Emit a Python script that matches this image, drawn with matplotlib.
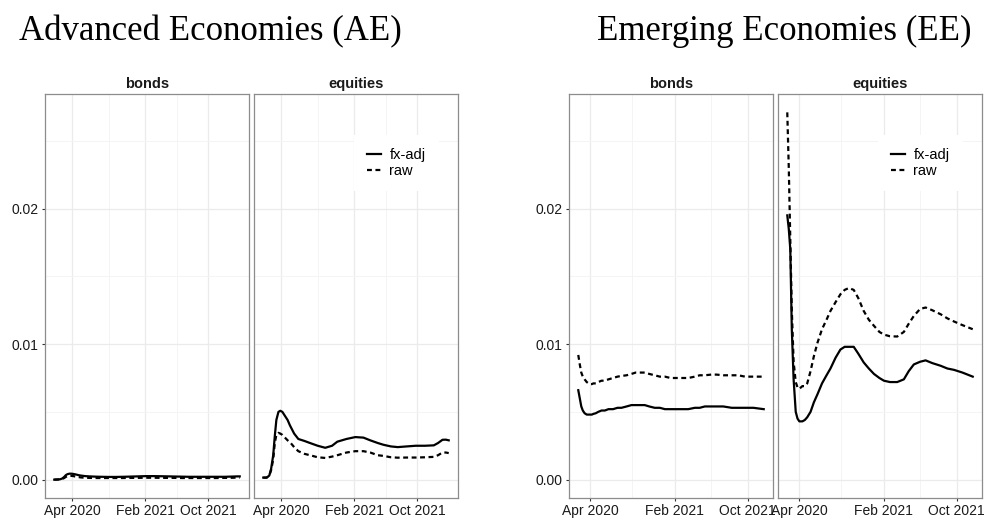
import numpy as np
import pandas as pd
import matplotlib
matplotlib.use("Agg")
import matplotlib.pyplot as plt
import matplotlib.dates as mdates
from matplotlib.ticker import FixedLocator
from matplotlib.lines import Line2D

plt.rcParams['font.family'] = ['Liberation Sans', 'DejaVu Sans']

# ---------------- data ----------------
ae_dates = [
    "2020-02-20", "2020-03-04", "2020-03-14", "2020-03-21", "2020-03-29", "2020-04-04",
    "2020-04-10", "2020-04-18", "2020-04-25", "2020-05-03", "2020-05-13", "2020-05-23",
    "2020-06-01", "2020-06-17", "2020-07-03", "2020-07-27", "2020-08-17", "2020-09-15",
    "2020-10-14", "2020-11-09", "2020-11-29", "2021-01-03", "2021-02-06", "2021-03-09",
    "2021-04-04", "2021-05-03", "2021-05-25", "2021-06-22", "2021-07-18", "2021-08-21",
    "2021-09-25", "2021-10-30", "2021-12-03", "2021-12-19", "2022-01-05", "2022-01-18",
    "2022-01-29",
]
ae_bonds_fxadj = [
    0.00000, 0.00001, 0.00003, 0.00008, 0.00020, 0.00033, 0.00040, 0.00044, 0.00044,
    0.00042, 0.00038, 0.00033, 0.00030, 0.00026, 0.00024, 0.00022, 0.00021, 0.00020,
    0.00020, 0.00021, 0.00022, 0.00024, 0.00026, 0.00026, 0.00025, 0.00024, 0.00023,
    0.00022, 0.00021, 0.00021, 0.00021, 0.00021, 0.00021, 0.00022, 0.00023, 0.00024,
    0.00024,
]
ae_bonds_raw = [
    0.00000, 0.00001, 0.00002, 0.00005, 0.00012, 0.00020, 0.00025, 0.00028, 0.00028,
    0.00026, 0.00022, 0.00019, 0.00016, 0.00014, 0.00013, 0.00012, 0.00012, 0.00012,
    0.00012, 0.00012, 0.00013, 0.00013, 0.00014, 0.00014, 0.00013, 0.00013, 0.00013,
    0.00012, 0.00012, 0.00012, 0.00012, 0.00012, 0.00013, 0.00013, 0.00014, 0.00015,
    0.00015,
]
ae_equities_fxadj = [
    0.00015, 0.00015, 0.00030, 0.00080, 0.00180, 0.00320, 0.00440, 0.00500, 0.00508,
    0.00500, 0.00470, 0.00440, 0.00400, 0.00340, 0.00300, 0.00285, 0.00270, 0.00250,
    0.00235, 0.00250, 0.00280, 0.00300, 0.00314, 0.00310, 0.00290, 0.00270, 0.00257,
    0.00245, 0.00240, 0.00245, 0.00250, 0.00250, 0.00253, 0.00270, 0.00294, 0.00295,
    0.00290,
]
ae_equities_raw = [
    0.00015, 0.00015, 0.00030, 0.00070, 0.00150, 0.00270, 0.00330, 0.00345, 0.00340,
    0.00330, 0.00310, 0.00290, 0.00277, 0.00240, 0.00210, 0.00190, 0.00180, 0.00165,
    0.00160, 0.00170, 0.00180, 0.00200, 0.00210, 0.00210, 0.00200, 0.00180, 0.00175,
    0.00165, 0.00162, 0.00163, 0.00163, 0.00165, 0.00168, 0.00180, 0.00200, 0.00200,
    0.00196,
]

ee_dates = [
    "2020-03-19", "2020-03-24", "2020-03-29", "2020-04-03", "2020-04-09", "2020-04-16",
    "2020-04-22", "2020-04-28", "2020-05-03", "2020-05-08", "2020-05-16", "2020-05-24",
    "2020-06-04", "2020-06-15", "2020-06-27", "2020-07-12", "2020-07-27", "2020-08-09",
    "2020-08-26", "2020-09-11", "2020-09-25", "2020-10-09", "2020-10-25", "2020-11-09",
    "2020-11-27", "2020-12-14", "2020-12-31", "2021-01-18", "2021-02-02", "2021-02-22",
    "2021-03-18", "2021-04-09", "2021-04-25", "2021-05-12", "2021-06-02", "2021-06-20",
    "2021-07-12", "2021-08-09", "2021-08-31", "2021-09-22", "2021-10-20", "2021-11-23",
]
ee_bonds_fxadj = [
    0.0066, 0.0060, 0.0054, 0.0051, 0.0049, 0.0048, 0.0048, 0.0048, 0.0048, 0.00485,
    0.0049, 0.0050, 0.0051, 0.0051, 0.0052, 0.0052, 0.0053, 0.0053, 0.0054, 0.0055,
    0.0055, 0.0055, 0.0055, 0.0054, 0.0053, 0.0053, 0.0052, 0.0052, 0.0052, 0.0052,
    0.0052, 0.0053, 0.0053, 0.0054, 0.0054, 0.0054, 0.0054, 0.0053, 0.0053, 0.0053,
    0.0053, 0.0052,
]
ee_bonds_raw = [
    0.0092, 0.0085, 0.0079, 0.0076, 0.0074, 0.0072, 0.0071, 0.00705, 0.00705, 0.0071,
    0.0071, 0.0072, 0.0073, 0.0073, 0.0074, 0.0075, 0.0076, 0.00765, 0.0077, 0.0078,
    0.0079, 0.0079, 0.0079, 0.0078, 0.0077, 0.0076, 0.0076, 0.0075, 0.0075, 0.0075,
    0.0075, 0.0076, 0.0077, 0.0077, 0.00775, 0.00775, 0.0077, 0.0077, 0.0077, 0.0076,
    0.0076, 0.0076,
]
ee_equities_fxadj = [
    0.0195, 0.0185, 0.0170, 0.0111, 0.0074, 0.0050, 0.0045, 0.0043, 0.0043, 0.0043,
    0.0044, 0.0046, 0.0050, 0.0057, 0.0063, 0.0071, 0.0077, 0.0082, 0.0090, 0.0096,
    0.0098, 0.0098, 0.0098, 0.0093, 0.00865, 0.0082, 0.0078, 0.0075, 0.0073, 0.0072,
    0.0072, 0.0074, 0.0080, 0.0085, 0.0087, 0.0088, 0.0086, 0.0084, 0.0082, 0.0081,
    0.0079, 0.0076,
]
ee_equities_raw = [
    0.0271, 0.0230, 0.0177, 0.0125, 0.0087, 0.0072, 0.0068, 0.0067, 0.0068, 0.0069,
    0.0069, 0.0071, 0.0080, 0.0091, 0.0101, 0.0111, 0.0118, 0.01245, 0.0131, 0.01368,
    0.0140, 0.01414, 0.0140, 0.0134, 0.01245, 0.0118, 0.01135, 0.0109, 0.0107, 0.01058,
    0.01056, 0.0109, 0.0115, 0.01208, 0.0126, 0.0127, 0.0125, 0.0122, 0.0119, 0.01167,
    0.0114, 0.0111,
]

date_breaks = ["2020-04-28", "2021-02-01", "2021-10-01"]
y_breaks = [0.00, 0.01, 0.02]
series_labels = ["fx-adj", "raw"]

# ---------------- styling ----------------
W, H = 984, 519
fig = plt.figure(figsize=(W / 100, H / 100), dpi=100)

panel_top, panel_bottom = 94, 498
panels = {
    ("AE", "bonds"): 45,
    ("AE", "equities"): 254,
    ("EE", "bonds"): 569,
    ("EE", "equities"): 778,
}
panel_w = 204

all_vals = np.concatenate([ae_bonds_fxadj, ae_bonds_raw, ae_equities_fxadj, ae_equities_raw,
                           ee_bonds_fxadj, ee_bonds_raw, ee_equities_fxadj, ee_equities_raw])
ylo, yhi = all_vals.min(), all_vals.max()
ypad = 0.05 * (yhi - ylo)
ylim = (ylo - ypad, yhi + ypad)

data = {
    "AE": (pd.to_datetime(ae_dates),
           {"bonds": (ae_bonds_fxadj, ae_bonds_raw),
            "equities": (ae_equities_fxadj, ae_equities_raw)}),
    "EE": (pd.to_datetime(ee_dates),
           {"bonds": (ee_bonds_fxadj, ee_bonds_raw),
            "equities": (ee_equities_fxadj, ee_equities_raw)}),
}

break_dates = pd.to_datetime(date_breaks)
break_nums = mdates.date2num(break_dates)
minor_nums = (break_nums[:-1] + break_nums[1:]) / 2
y_minor = [0.005, 0.015, 0.025]

line_kw = dict(color="black", linewidth=1.6)
dash_pattern = (2.2, 1.6)

for (econ, asset), left in panels.items():
    ax = fig.add_axes([left / W, 1 - panel_bottom / H, panel_w / W,
                       (panel_bottom - panel_top) / H])
    dates, sets = data[econ]
    fx, raw = sets[asset]
    ax.plot(dates, fx, linestyle="-", **line_kw)
    ax.plot(dates, raw, linestyle=(0, dash_pattern), **line_kw)

    x0, x1 = mdates.date2num(dates[0]), mdates.date2num(dates[-1])
    xpad = 0.05 * (x1 - x0)
    ax.set_xlim(x0 - xpad, x1 + xpad)
    ax.set_ylim(*ylim)

    ax.xaxis.set_major_locator(FixedLocator(break_nums))
    ax.xaxis.set_minor_locator(FixedLocator(minor_nums))
    ax.xaxis.set_major_formatter(mdates.DateFormatter("%b %Y"))
    ax.yaxis.set_major_locator(FixedLocator(y_breaks))
    ax.yaxis.set_minor_locator(FixedLocator(y_minor))
    ax.yaxis.set_major_formatter(plt.FuncFormatter(lambda v, p: f"{v:.2f}"))

    ax.set_axisbelow(True)
    ax.grid(which="major", color="#ebebeb", linewidth=0.9)
    ax.grid(which="minor", color="#f4f4f4", linewidth=0.7)
    for s in ax.spines.values():
        s.set_color("#8c8c8c")
        s.set_linewidth(0.9)

    ax.tick_params(which="major", length=2.5, width=0.8, color="#333333",
                   labelsize=10, labelcolor="#1a1a1a", pad=2)
    ax.tick_params(which="minor", length=0)
    if asset == "equities":
        ax.tick_params(axis="y", which="both", left=False, labelleft=False)

    ax.set_title(asset, fontsize=10.5, fontweight="bold", color="#1a1a1a", pad=4)

    if asset == "equities":
        handles = [Line2D([], [], linestyle="-", **line_kw),
                   Line2D([], [], linestyle=(0, dash_pattern), **line_kw)]
        leg = ax.legend(handles, series_labels, loc="center",
                        bbox_to_anchor=(0.6985, 0.829), fontsize=10.5,
                        frameon=True, facecolor="white", edgecolor="none",
                        framealpha=1, fancybox=False, handlelength=0.9,
                        handletextpad=0.6, labelspacing=0.15, borderpad=0.9)

fig.text(19 / W, 1 - 40 / H, "Advanced Economies (AE)", fontsize=25,
         family=["Liberation Serif", "DejaVu Serif"], ha="left", va="baseline")
fig.text(597 / W, 1 - 40 / H, "Emerging Economies (EE)", fontsize=25,
         family=["Liberation Serif", "DejaVu Serif"], ha="left", va="baseline")

fig.savefig("out.png", dpi=100, facecolor="white")
